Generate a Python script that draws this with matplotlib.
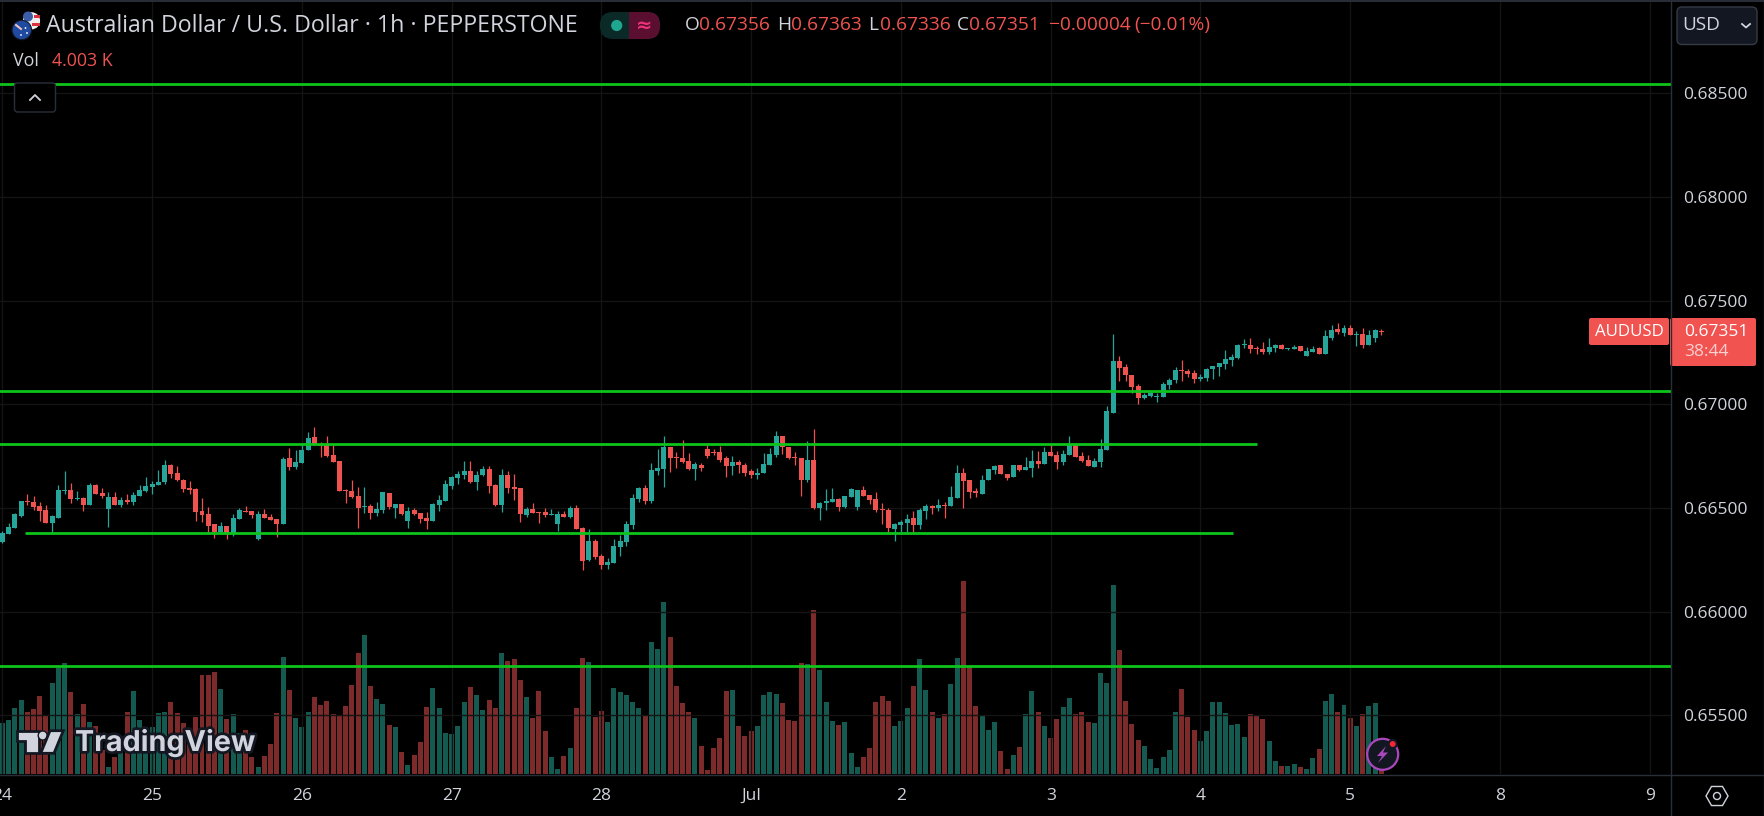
import numpy as np
import matplotlib
matplotlib.use("Agg")
import matplotlib.pyplot as plt
from matplotlib.patches import Circle, FancyBboxPatch, Polygon, Rectangle, RegularPolygon
import matplotlib.patheffects as pe

# prices in 1e-5 units, one entry per hourly bar
opens = [66338,66376,66405,66463,66535,66531,66511,66492,66429,66454,
         66584,66589,66545,66550,66516,66613,66574,66497,66555,66516,
         66540,66531,66560,66584,66603,66613,66627,66709,66670,66637,
         66598,66593,66487,66473,66425,66386,66415,66381,66449,66487,
         66487,66352,66473,66458,66449,66425,66743,66699,66719,66781,
         66844,66810,66805,66757,66728,66589,66584,66560,66507,66511,
         66478,66492,66574,66502,66521,66439,66492,66478,66454,66439,
         66516,66535,66608,66646,66661,66680,66627,66661,66690,66613,
         66516,66661,66603,66598,66468,66497,66482,66482,66468,66425,
         66473,66458,66502,66405,66251,66343,66270,66227,66237,66314,
         66338,66420,66545,66598,66535,66680,66690,66796,66748,66743,
         66728,66690,66709,66786,66772,66772,66743,66704,66724,66709,
         66680,66661,66670,66709,66757,66849,66796,66748,66743,66637,
         66733,66502,66526,66531,66545,66507,66555,66507,66589,66564,
         66545,66497,66492,66401,66420,66429,66454,66420,66487,66511,
         66502,66516,66511,66550,66670,66637,66584,66569,66637,66685,
         66709,66666,66651,66709,66685,66695,66728,66714,66772,66757,
         66724,66757,66810,66752,66733,66699,66724,66780,66958,67209,
         67180,67142,67089,67031,67040,67036,67036,67093,67118,67166,
         67161,67151,67122,67127,67171,67180,67195,67214,67224,67288,
         67286,67272,67267,67253,67272,67286,67267,67267,67281,67233,
         67253,67272,67243,67320,67363,67344,67368,67334,67339,67286,
         67320,67356]
highs = [66389,66429,66478,66535,66569,66560,66529,66516,66468,66613,
         66680,66622,66584,66555,66622,66617,66598,66579,66579,66555,
         66569,66579,66613,66651,66632,66685,66733,66714,66704,66642,
         66632,66598,66550,66507,66425,66434,66415,66473,66502,66511,
         66487,66487,66497,66473,66449,66748,66791,66781,66810,66868,
         66892,66820,66849,66810,66728,66593,66637,66603,66603,66521,
         66531,66579,66574,66521,66521,66507,66502,66478,66482,66526,
         66564,66637,66656,66680,66728,66728,66680,66704,66704,66617,
         66690,66680,66666,66598,66507,66526,66482,66502,66497,66487,
         66487,66511,66516,66410,66401,66352,66280,66261,66352,66372,
         66439,66569,66603,66613,66719,66786,66849,66796,66772,66830,
         66767,66724,66719,66805,66786,66801,66752,66752,66733,66719,
         66690,66695,66767,66791,66873,66849,66796,66772,66743,66825,
         66883,66531,66593,66598,66550,66560,66598,66589,66608,66564,
         66579,66526,66502,66429,66444,66473,66487,66502,66521,66516,
         66545,66531,66608,66709,66695,66637,66598,66661,66690,66709,
         66709,66666,66709,66709,66748,66781,66777,66796,66810,66777,
         66781,66849,66815,66772,66757,66743,66834,66992,67339,67233,
         67195,67142,67098,67055,67069,67055,67108,67127,67180,67214,
         67171,67166,67146,67175,67185,67199,67262,67243,67291,67315,
         67320,67281,67301,67320,67291,67291,67272,67286,67281,67277,
         67281,67277,67359,67383,67392,67383,67383,67354,67368,67359,
         67363,67363]
lows = [66333,66376,66405,66458,66516,66492,66439,66429,66381,66454,
        66569,66526,66540,66487,66516,66569,66550,66410,66516,66507,
        66521,66516,66560,66579,66569,66613,66617,66646,66632,66579,
        66569,66439,66434,66386,66357,66376,66352,66367,66449,66482,
        66454,66347,66454,66444,66362,66425,66685,66690,66719,66781,
        66805,66748,66748,66724,66584,66526,66550,66405,66478,66449,
        66463,66478,66497,66454,66468,66405,66468,66429,66401,66439,
        66487,66535,66593,66617,66642,66622,66589,66656,66574,66511,
        66482,66574,66540,66434,66458,66478,66429,66458,66468,66391,
        66458,66454,66401,66203,66246,66256,66208,66208,66237,66270,
        66319,66401,66531,66521,66526,66661,66603,66675,66695,66719,
        66685,66637,66680,66743,66757,66724,66651,66661,66670,66656,
        66646,66642,66670,66709,66748,66762,66738,66709,66560,66627,
        66497,66444,66492,66531,66487,66502,66555,66492,66560,66521,
        66482,66425,66386,66343,66386,66386,66386,66401,66449,66473,
        66487,66454,66511,66550,66502,66550,66555,66569,66637,66666,
        66666,66637,66651,66680,66685,66651,66695,66714,66752,66690,
        66709,66757,66748,66724,66704,66699,66699,66780,66958,67113,
        67113,67055,67002,67026,67036,67011,67036,67074,67103,67113,
        67132,67103,67113,67113,67122,67137,67171,67185,67219,67272,
        67248,67243,67243,67243,67253,67267,67262,67267,67257,67233,
        67253,67243,67243,67310,67339,67330,67334,67281,67272,67286,
        67301,67336]
closes = [66381,66410,66473,66535,66531,66507,66487,66429,66463,66589,
          66589,66545,66550,66516,66613,66569,66560,66555,66516,66540,
          66531,66564,66589,66608,66617,66627,66709,66666,66637,66593,
          66589,66482,66468,66415,66386,66415,66380,66454,66492,66482,
          66468,66473,66454,66444,66425,66738,66699,66724,66781,66839,
          66805,66801,66752,66724,66584,66584,66555,66502,66511,66478,
          66497,66579,66507,66521,66473,66487,66473,66449,66439,66521,
          66540,66617,66651,66666,66680,66627,66661,66690,66608,66516,
          66661,66598,66593,66473,66497,66478,66478,66468,66473,66473,
          66458,66502,66401,66246,66343,66266,66227,66241,66319,66343,
          66425,66550,66598,66535,66685,66695,66796,66743,66743,66724,
          66690,66714,66695,66752,66767,66733,66704,66724,66709,66670,
          66661,66670,66714,66762,66849,66796,66743,66743,66637,66733,
          66502,66526,66535,66545,66507,66560,66593,66589,66560,66540,
          66492,66492,66405,66425,66434,66449,66420,66492,66511,66502,
          66516,66511,66555,66670,66632,66579,66574,66637,66690,66704,
          66666,66646,66709,66685,66699,66728,66714,66772,66752,66724,
          66762,66810,66748,66728,66704,66728,66786,66968,67209,67175,
          67142,67084,67031,67045,67055,67040,67098,67118,67166,67161,
          67146,67122,67132,67171,67185,67199,67219,67228,67286,67291,
          67267,67267,67253,67277,67286,67267,67272,67277,67257,67257,
          67267,67243,67330,67359,67349,67368,67334,67339,67286,67334,
          67359,67351]
# volume in thousands
volumes = [15.3,16.2,19.8,22.2,18.6,19.5,23.4,17.7,27.3,31.8,
           33.3,24.6,18.0,21.0,15.6,14.4,7.2,2.1,5.1,8.2,
           18.6,24.9,16.2,14.1,14.1,18.3,18.6,21.6,18.3,15.3,
           11.2,17.1,29.7,29.7,30.6,25.5,16.5,18.0,12.2,13.2,
           5.1,2.1,5.4,9.0,18.3,35.1,25.2,16.8,14.1,18.6,
           23.1,20.7,21.9,18.0,17.4,20.4,26.7,36.3,41.7,26.4,
           22.5,21.0,14.7,14.1,6.6,2.7,5.7,9.6,20.1,25.8,
           19.8,12.3,12.0,14.4,21.6,26.1,23.7,19.2,22.2,19.8,
           36.3,33.9,34.5,28.2,23.1,16.8,24.9,12.9,5.1,1.5,
           5.4,7.8,19.8,34.8,33.6,17.1,18.9,15.6,25.8,24.6,
           23.7,21.6,19.8,17.4,39.6,37.5,51.6,41.1,26.4,21.3,
           18.6,16.8,8.4,1.2,7.8,10.8,24.9,25.2,14.4,11.4,
           12.9,14.4,23.7,24.6,24.0,21.3,16.2,15.9,33.3,33.0,
           49.2,31.2,21.6,15.9,14.7,15.6,6.3,2.1,5.1,7.8,
           21.6,23.4,21.9,14.4,15.9,19.8,26.4,34.5,25.2,18.6,
           16.8,18.0,27.0,34.8,57.9,32.1,20.4,17.4,13.2,15.6,
           6.9,1.5,5.7,8.1,18.0,24.9,18.6,14.4,10.8,16.5,
           20.1,22.8,18.0,18.6,15.6,15.3,30.3,27.3,56.7,37.2,
           21.9,15.0,10.2,8.4,4.5,1.8,5.1,7.2,18.6,25.5,
           17.1,13.2,9.9,12.9,21.6,21.6,18.3,14.7,15.0,11.1,
           18.0,17.4,16.5,9.9,3.9,2.4,2.4,3.0,2.1,1.5,
           4.8,7.5,21.9,24.0,18.6,20.7,16.8,14.4,18.0,20.4,
           21.3,4.003]

day_ticks = [0, 24, 48, 72, 96, 120, 144, 168, 192, 216, 240, 264]
day_labels = ["24", "25", "26", "27", "28", "Jul", "2", "3", "4", "5", "8", "9"]
price_ticks = [0.655, 0.66, 0.665, 0.67, 0.675, 0.68, 0.685]

# drawn levels: price, first bar, last bar
level_prices = [0.68545, 0.67063, 0.66809, 0.66381, 0.6574]
level_starts = [-1, -1, -1, 3.7, -1]
level_ends = [268, 268, 201, 197.2, 268]

BG = "#000000"
GRID = "#141414"
BORDER = "#2a2e39"
TXT = "#d1d4dc"
UP = "#26a69a"
DOWN = "#ef5350"
VOL_UP = "#145a50"
VOL_DOWN = "#7c2a2a"
LEVEL = "#0ec41c"

plt.rcParams["font.family"] = ["Open Sans", "DejaVu Sans"]

o = np.array(opens) / 1e5
h = np.array(highs) / 1e5
l = np.array(lows) / 1e5
c = np.array(closes) / 1e5
v = np.array(volumes)
x = np.arange(len(o))
up = c >= o

W, H = 1765, 816
fig = plt.figure(figsize=(W / 100, H / 100), dpi=100, facecolor=BG)

ax2 = fig.add_axes([0, 42 / H, 1671 / W, 774 / H], facecolor=BG, zorder=1)
ax = fig.add_axes([0, 42 / H, 1671 / W, 774 / H], zorder=2)
ax.patch.set_visible(False)

ax2.bar(x, v, width=0.8, color=[VOL_UP if u else VOL_DOWN for u in up], linewidth=0)
ax2.set_ylim(0, 232.2)
ax2.set_xlim(-0.369, 267.4)
ax2.axis("off")

ax.set_xlim(-0.369, 267.4)
ax.set_ylim(0.652179, 0.689499)
ax.grid(True, color=GRID, linewidth=1.0)
ax.set_axisbelow(True)

colors = np.where(up, UP, DOWN)
ax.vlines(x, l, h, colors=colors, linewidth=0.9, zorder=3)
ax.bar(x, np.abs(c - o), bottom=np.minimum(o, c), width=0.8, color=colors, linewidth=0, zorder=4)
ax.hlines(level_prices, level_starts, level_ends, colors=LEVEL, linewidth=2.0, zorder=5)

ax.set_xticks(day_ticks)
ax.set_xticklabels(day_labels)
ax.set_yticks(price_ticks)
ax.set_yticklabels(["%.5f" % p for p in price_ticks])
ax.yaxis.tick_right()
ax.tick_params(axis="x", length=0, colors=TXT, labelsize=12.5, pad=10)
ax.tick_params(axis="y", length=0, colors=TXT, labelsize=12.5, pad=9)
for s in ax.spines.values():
    s.set_visible(False)

# overlay in pixel coordinates for the platform furniture
ov = fig.add_axes([0, 0, 1, 1], zorder=5)
ov.set_xlim(0, W)
ov.set_ylim(H, 0)
ov.axis("off")
ov.patch.set_visible(False)


def txt(px, py, s, color=TXT, size=12.5, ha="left", **kw):
    return ov.text(px, py, s, color=color, fontsize=size, ha=ha, va="center", **kw)


ov.plot([1671, 1671], [0, H], color=BORDER, lw=1)
ov.plot([0, W], [774.5, 774.5], color=BORDER, lw=1)
ov.plot([0, W], [1, 1], color=BORDER, lw=1.4)
ov.plot([1764, 1764], [0, H], color=BORDER, lw=1)

# flags
ov.add_patch(Circle((31.5, 20.8), 8.6, fc="#f0f0f0", ec="none"))
ov.add_patch(Rectangle((34, 15), 6, 3, fc="#d8333f", ec="none"))
ov.add_patch(Rectangle((32, 23), 8, 3, fc="#d8333f", ec="none"))
ov.add_patch(Circle((28, 16.5), 5, fc="#3c5ea8", ec="none"))
ov.add_patch(Circle((21.8, 30), 10.3, fc="#131722", ec="none"))
ov.add_patch(Circle((21.8, 30), 9.2, fc="#1f4aa0", ec="none"))
ov.plot([16, 21], [25, 29], color="#f0c8c8", lw=1.4)
for fx, fy in [(25.5, 28), (21, 35), (27, 33)]:
    ov.add_patch(Circle((fx, fy), 0.9, fc="white", ec="none"))

txt(46, 26, "Australian Dollar / U.S. Dollar · 1h · PEPPERSTONE", size=16.65)

# market status pill
ov.add_patch(FancyBboxPatch((600, 12), 60, 27, boxstyle="round,pad=0,rounding_size=13",
                            fc="#0b2a27", ec="none"))
ov.add_patch(FancyBboxPatch((629.4, 12), 30.6, 27, boxstyle="round,pad=0,rounding_size=13",
                            fc="#5a0f30", ec="none"))
ov.add_patch(Rectangle((629.4, 12), 15, 27, fc="#5a0f30", ec="none"))
ov.add_patch(Circle((616.7, 25.5), 5.6, fc="#1fa68f", ec="none", zorder=3))
txt(644, 25, "≈", color="#f0327a", size=14, ha="center", family=["DejaVu Sans"], fontweight="bold", zorder=3)

# OHLC strip
ohlc_letters = ["O", "H", "L", "C"]
ohlc_x = [684.5, 777, 868.6, 957]
ohlc_val_x = [699, 791, 880, 969]
ohlc_vals = [opens[-1], highs[-1], lows[-1], closes[-1]]
for s, a, b, val in zip(ohlc_letters, ohlc_x, ohlc_val_x, ohlc_vals):
    txt(a, 25, s, size=13.8)
    txt(b, 25, "%.5f" % (val / 1e5), color=DOWN, size=13.8)
txt(1049, 25, "−0.00004", color=DOWN, size=13.8)
txt(1134, 25, "(−0.01%)", color=DOWN, size=13.8)

txt(13.4, 61, "Vol", size=12.8)
txt(51.7, 61, "4.003 K", color=DOWN, size=12.8)

# collapse button
ov.add_patch(FancyBboxPatch((14.5, 83), 41, 29, boxstyle="round,pad=0,rounding_size=3",
                            fc=BG, ec=BORDER, lw=1, zorder=6))
ov.plot([30, 35, 40], [100, 95, 100], color=TXT, lw=1.3, zorder=7)

# USD selector
ov.add_patch(FancyBboxPatch((1677, 7), 80, 37.5, boxstyle="round,pad=0,rounding_size=5",
                            fc="#131722", ec="#363a45", lw=1))
txt(1682, 25, "USD", size=13.6)
ov.plot([1742, 1746, 1750], [24, 27.5, 24], color=TXT, lw=1.3)

# last price labels
ov.add_patch(FancyBboxPatch((1589, 318), 80, 27, boxstyle="round,pad=0,rounding_size=2",
                            fc="#f05350", ec="none"))
txt(1629, 331.5, "AUDUSD", color="white", size=12.2, ha="center")
ov.add_patch(FancyBboxPatch((1670, 318), 86, 48, boxstyle="round,pad=0,rounding_size=2",
                            fc="#f05350", ec="none"))
txt(1684, 332, "%.5f" % (closes[-1] / 1e5), color="white", size=12.5, fontweight="medium")
txt(1684, 352.5, "38:44", color="#fbd0d0", size=12.5)

# watermark
wm = "#d1d4dc"
dark = "#131722"
ov.add_patch(Polygon([(17.3, 730.7), (39.3, 730.7), (39.3, 753.3), (25, 753.3), (25, 740.7), (17.3, 740.7)],
                     fc=wm, ec=dark, lw=2, zorder=6))
ov.add_patch(Circle((42.7, 735.5), 4.5, fc=wm, ec=dark, lw=1, zorder=6))
ov.add_patch(Polygon([(50, 730.7), (63.3, 730.7), (54, 753.3), (40.7, 753.3)], fc=wm, ec=dark, lw=2, zorder=6))
tv = txt(75, 743, "TradingView", color=wm, size=20.7, family=["Inter", "DejaVu Sans"], fontweight="bold", zorder=6)
tv.set_path_effects([pe.withStroke(linewidth=4, foreground=dark)])

# lightning badge
ov.add_patch(Circle((1382.7, 754.3), 15.5, fc=dark, ec="#ab47bc", lw=1.6, zorder=6))
ov.add_patch(Polygon([(1386, 746), (1377, 756), (1382, 756), (1378, 763), (1388, 752.5), (1383, 752.5)],
                     fc="#ab47bc", ec="none", zorder=7))
ov.add_patch(Circle((1392.7, 744), 4, fc="#f7253a", ec=dark, lw=1.5, zorder=8))

# settings hex
ov.add_patch(RegularPolygon((1717, 796), 6, radius=11, orientation=np.pi / 6,
                            fc="none", ec=TXT, lw=1))
ov.add_patch(Circle((1717, 796), 3.5, fc="none", ec=TXT, lw=1))

fig.savefig("out.png", dpi=100, facecolor=BG)
